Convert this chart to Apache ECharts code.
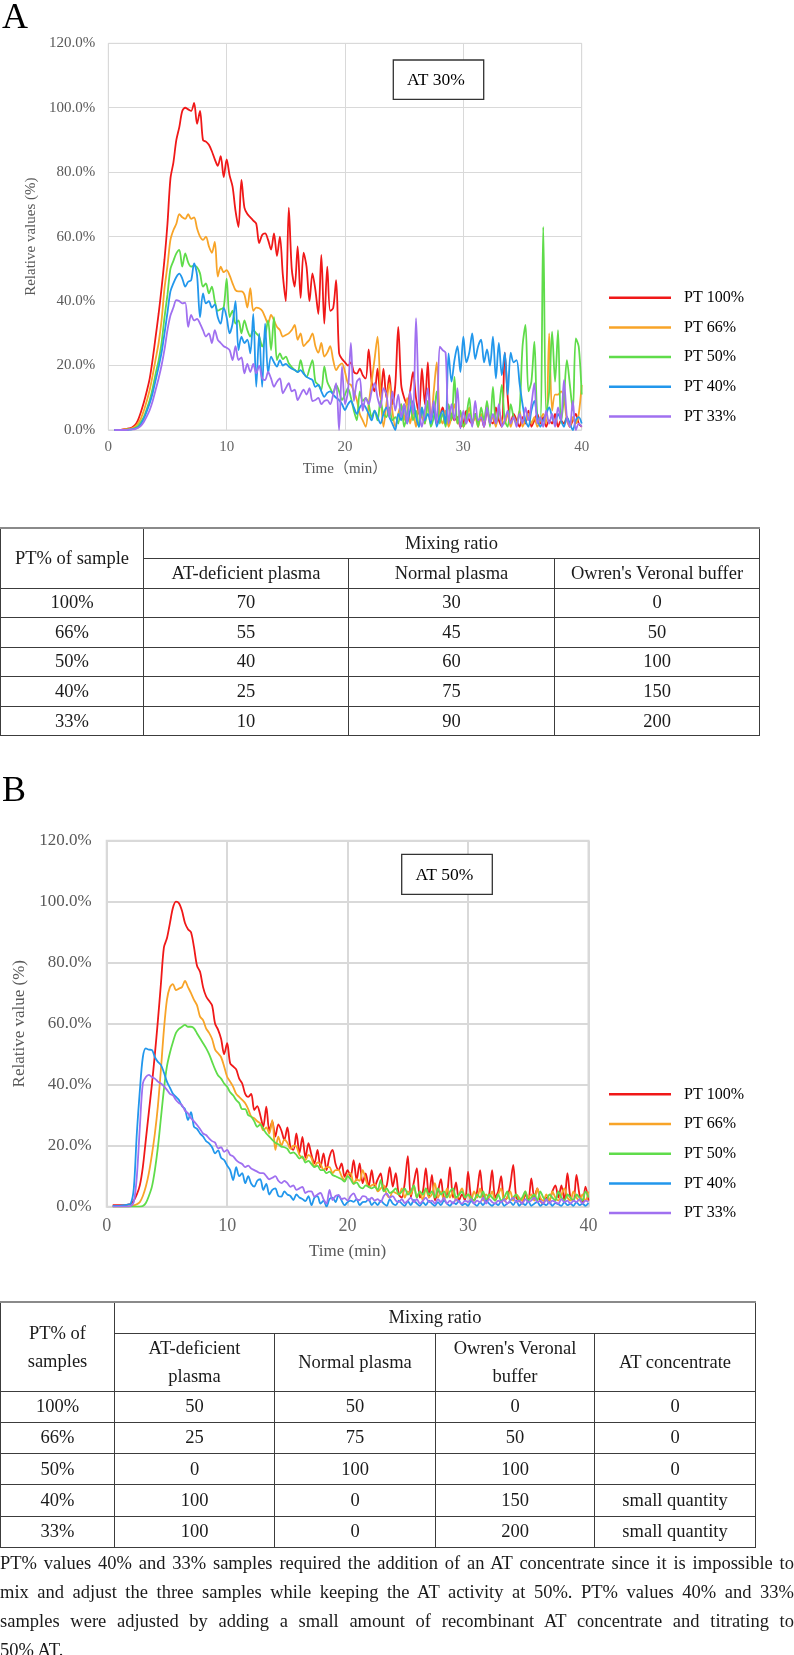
<!DOCTYPE html>
<html>
<head>
<meta charset="utf-8">
<script src="https://cdn.jsdelivr.net/npm/echarts@6/dist/echarts.min.js"></script>
<style>
  html, body { margin: 0; padding: 0; background: #fff; }
  #page { position: relative; width: 794px; height: 1655px; overflow: hidden; }
  #chart { position: absolute; left: 0; top: 0; width: 794px; height: 1655px; }
  table.mix { position: absolute; left: 0; border-collapse: collapse; table-layout: fixed;
    font-family: 'Liberation Serif', 'Times New Roman', serif; font-size: 18.5px; color: #1a1a1a; }
  table.mix td { border: 1px solid #3c3c3c; text-align: center; vertical-align: middle; padding: 0; }
  table.mix tr:first-child td { border-top: 2px solid #8a8a8a; }
  #tA { top: 527px; width: 759px; }
  #tB { top: 1301px; width: 755px; }
  #tB .two { line-height: 28px; }
  #note { position: absolute; left: 0; top: 1549px; width: 794px;
    font-family: 'Liberation Serif', 'Times New Roman', serif; font-size: 18.5px; color: #1a1a1a; line-height: 29px; }
  #note div { white-space: nowrap; text-align: justify; text-align-last: justify; }
  #note div.last { text-align-last: left; }
</style>
</head>
<body>
<div id="page">
  <div id="chart"></div>
  <table class="mix" id="tA"></table>
  <table class="mix" id="tB"></table>
  <div id="note"></div>
</div>
<script>
// ---------- sampling grid (minutes) ----------
const TIME = Array.from({length: 159}, (_, i) => 0.5 + 0.25 * i);
const SERIES_NAMES = ['PT 100%', 'PT 66%', 'PT 50%', 'PT 40%', 'PT 33%'];
const COLORS = ['#f01818', '#f8a428', '#5fdc4a', '#2297ec', '#a070f0'];
const X_TICKS = [0, 10, 20, 30, 40];
const Y_TICKS = [0, 20, 40, 60, 80, 100, 120];

// ---------- Panel A : AT 30% ----------
const RED_A = [0,0,0,0.2,0.3,0.5,0.8,1.5,
3,5.5,8.5,12,16,22,29,36,
44,53,64,78,83,90,94,99,
100,99.5,99,101.5,95,99,90,89.5,
88.5,86.5,84,82,85,78.5,84,79,
75.5,68,63,77.6,69,67,66,65,
64,58,60.5,61,59,56,61,54,
60,48,40,69,50,44.5,57,41,
55,50.7,40,48.6,43.4,36,54.3,33,
50.7,37,37.8,46.5,23.8,22,21,20,
21,18,17.5,19,17,16,25,15,
12,19,10,19,10,17,8,14,
32,14,10,8,12,18,10,5,
19,8,21,4,6,2,4,7,
3,2,5,3,4,1,2,6,
3,2,5,2,4,1,6,3,
2,7,3,1,24,10,2,5,
3,1,4,2,6,1,3,5,
2,4,1,3,2,5,1,3,
2,4,1,3,5,2,1];
const ORANGE_A = [0,0,0,0.1,0.2,0.3,0.5,1,
2,3.5,6,9,12.5,17,22,27,
34,44,51,59,62,64,67,66,
65.5,67,65.5,66,62.5,60,59,60,
57,55,58.4,47.6,50.7,49,49.6,48,
45.5,43.4,43,43,42,38,44,37,
38,37.8,37,35,33,35.7,34,32,
31,29,29.5,30,31,32.6,28,30,
26,27,28,30,26,24,27,22.8,
24,26,21.7,18.6,20,20.7,18,14.5,
14,12,9.3,5,3,1,8,15,
22,29,12,1,8,14.5,6,1,
5,8,3,10,2,6,1,7,
4,2,9,3,12,21,5,2,
6,1,4,8,2,5,1,3,
7,2,4,1,5,3,8,2,
4,1,6,3,2,5,1,4,
2,6,1,3,5,2,4,1,
3,5,2,30,6,11,11,12,
10,3,1,4,2,5,14];
const GREEN_A = [0,0,0,0,0.1,0.2,0.3,0.6,
1.2,2.5,4,6.5,9.3,13,17.5,21.5,
27,35,42,50,52.5,54.8,55.9,50.7,
54.8,52,50.7,51,50.5,48.6,44.5,45.5,
42.4,44.5,40,37,37.5,38,47,35,
37,33,34,30,34,31,29,31,
30,29,25.9,29,34,24.8,35,21.7,
23.8,22,22.8,20.7,19.5,18.6,18,21.7,
18,16.5,19,21.7,15,14,12.4,19.7,
15,13,11.4,14,12,9.3,11,13,
10,6,3,12,9,10,8,4,
6,3,9,5,4,7,3,4,
2,8,1,5,10,3,6,1,
7,2,9,1,4,12,2,5,
1,8,3,16.5,2,6,1,4,
10,2,5,1,7,3,9,1,
13.4,2,6,14,3,1,8,4,
2,6,25.9,32.6,12,15,27.4,4,
3,63,5,12,30.5,15,31,2,
10,21.7,14,6,28.4,25.9,11];
const BLUE_A = [0,0,0,0,0,0.1,0.2,0.4,
0.8,1.8,3.5,5.8,8.3,11.5,15.5,19.5,
24,30,36.5,43,45.5,47.5,48.5,47,
44.5,46,46.5,51.7,48,35,42.4,39.3,
40,38,39,35,33,38,35,30,
33,40,24.8,29,27,28,23.8,36,
13.4,30,13.4,33,17.6,22.8,21,19.7,
21.7,20,20.5,19.7,19,18.6,18,18.6,
17.5,16.5,16,15.5,13.4,14,12,10.3,
11.5,12,11,10,9.3,8,6.2,8,
9,7,5,7,8,7,5,3,
6,4,2,5,7,4,2,0,
5,3,8,2,6,9,4,1,
7,3,5,2,8,1,4,6,
2,23.8,15,21.7,26,18,29,21,
24,30,22,26,28,21,25,20,
29,16,27,17,24,11,24,21,
21.7,14.5,8,3,1,6,9,4,
1,3,5,7,4,2,5,3,
1,4,2,0,3,4,2];
const PURPLE_A = [0,0,0,0,0,0.1,0.2,0.3,
0.6,1.3,2.5,4.2,6.2,9,12.5,16,
20,25,31,35.5,38,40.3,40,39.3,
39.5,32,35.7,34,34.5,33,31,29,
30,27,31,28,27,26,25.5,24.8,
21.7,26,21.7,22.5,17.6,20.5,18,20.5,
17.6,20,16,15.5,18,16,13.4,15,
16,11.4,13,14.5,12,12.5,9.3,11,
12.5,11,13,9,9.3,10,8,9,
9.3,8,11,14.5,0,19.7,8,12,
27,9,15,16,6,10,8,12,
14.5,10,7,13,11,4,12,6,
11,4,8,2,12,5,34.7,8,
1,6,13,3,9,2,25.9,24.8,
24,2,8,3,13,0.5,6,2,
5,1,9,3,4,1,7,2,
5,2,8,1,3,6,2,4,
1,5,2,7,3,8,14.5,2,
4,1,6,2,5,1,7,3,
15.5,4,1,9,0,2,1];

// ---------- Panel B : AT 50% ----------
const RED_B = [0.5,0.5,0.5,0.5,0.5,0.7,0.9,2,
4,7,13,22,31,40,50,61,
73,85,88,93,98,100,99.5,97,
93,91,90,85,79,77,72,69,
67.5,66,60,58,55,50,53.6,47,
46,45,42,40.4,37,36,37,31.7,
33,30,26.2,32.8,25,28,23,27,
25,21.9,26,19.7,18.6,24,17.5,22.9,
16,20.8,17,14.2,18.6,13,17.5,12,
16.4,18.6,14,12,14.2,9.8,12,9.8,
15.3,8.7,14.2,7.7,10.9,6.6,12,6.6,
9,10.9,5.5,7,13,6.6,11,4,
3,8,16.6,3,8,12.6,3,5,
12.6,3,10.4,2,5,9,3,4,
13,3,8,2,4,2,11.5,3,
2,5,12,3,2,4,12,3,
5,10,2,3,7,13.7,3,2,
1,4,2,9.3,3,6,2,1,
3,2,5,7,3,7,2,11,
3,2,10.4,4,1,6.6,2];
const ORANGE_B = [0,0,0,0,0,0,0.2,0.4,
0.8,1.5,3.5,6.6,11,17,24,33,
45,58,67.8,72,73,71,71.5,72,
74,72,70,67.8,66,62.3,61.2,58.5,
57,55,51.5,50.3,49,46,42.6,41,
39.3,37,36,35,33.9,32,29.5,29,
28,27.3,25,26,24,28.4,18.6,23,
20,22,21,19,20,19.7,17,16,
15.3,17,16,13,14.5,14,12,13,
13,11,12,12,10,8.7,10.5,11,
7.5,9,8.5,12,9,6.5,7,7.5,
5,6,7,4,3,5,4.5,4,
6,3,5,4,7,3,5,2,
6,3,4,7.7,3,5,2,6,
3,5,2,4,6,3,4,2,
5,3,6,2,4,3,5,2,
4,6,2,3,5,2,4,3,
2,5,3,4,2,6,3,2,
4,2,5,3,2,4,6,3,
2,5,3,2,4,2,5];
const GREEN_B = [0,0,0,0,0,0,0,0,
0,0,0.2,1.2,3.5,6.5,12,19.5,
29,38.5,46,50.5,54,57,58.3,59,
59.6,59,59,58.5,56.8,55.2,53.6,52,
50,47.5,45,43,42,40.4,39.3,37.5,
36.5,35,34,32,32,30,29.5,28,
26.2,27,25.5,24,23,21.9,21,20.5,
19.7,19.5,19,17.5,17.8,17,15.8,16.5,
14.5,15,14,13,13.5,12,12,11,
11.5,10.4,10,9.5,9,8.2,10,9,
7.5,8,6.5,6,7,6.5,6,6.5,
5.5,8.7,5,6,4.5,5,6,4,
5,6,4,5,7,3,5,4,
6,4,5,3,6,4,5,3,
5,6,3,4,5,3,4,3,
2,4,3,5,2,4,3,2,
4,2,3,5,2,3,4,2,
3,5,2,3,4,2,5,3,
2,4,3,2,5,3,2,4,
3,2,4,3,2,5,3];
const BLUE_B = [0.3,0.3,0.3,0.4,0.5,0.7,1,6,
24,38,49,51.9,51.5,51.4,49,47.5,
46.5,44,41,39,37,36,35,33,
32,28.4,31,26.2,25.5,24,23,21.5,
20.8,19.5,17.5,18.5,16,15.3,13.5,12,
8.7,13,10,11,7.7,10,7.5,6.6,
8.5,9,5.5,7.5,4,5.5,6,3.5,
3.3,5,4,3.5,2.2,4,3,2.5,
1.8,3.5,0.5,3,3.5,1,2,0,
2.5,3,1.5,3.8,2,0.5,1.5,2,
1.6,2.5,0.5,1.5,1.6,2.5,0.5,1.5,
0.5,2,1,0.3,2.5,1,0.5,2,
1,0.3,1.8,0.5,2.2,1,0.3,1.5,
0.5,2,1,0.3,1.5,0.5,2,1,
0.3,1.5,0.8,2,0.5,1,0.3,1.8,
1,0.3,1.5,0.5,2,1,0.3,1.2,
0.5,1.8,0.3,1,1.5,0.5,2,0.3,
1.2,0.5,1.8,0.3,1,1.5,0.3,1,
0.5,1.5,0.3,1.2,0.8,0.3,1.5,0.5,
1,0.3,1.5,0.5,1,0.3,1.2];
const PURPLE_B = [0,0,0,0,0,0,0.2,1.5,
9.8,26,40.4,42.5,43.2,42.5,42,41,
40.4,39.5,38.3,37,36.5,35,34,33.3,
31.5,30.6,29,28,26.8,25.5,24,23.5,
22.4,21.5,21,19.1,19.5,18,18.6,17,
16.5,15.3,14.5,14,13,13.5,12.5,12,
11.5,11,11,10,9,9.5,10,8.5,
7.7,8.5,7.7,6.5,7,5.5,6,6.5,
4.5,5,5,3.3,4,4.5,2.5,1,
5.5,2.2,3.5,3.8,2.5,2.8,2,3.5,
4.4,2.5,2.2,3.5,3.3,2,3,2,
2.5,1.5,3.5,4.4,3,3.5,2,1.5,
2.5,1.2,2,3,1.5,2.5,1,2,
3,1.5,2,1,2.5,1.5,3,1,
2,1,2.5,1.5,1,2,1.5,2.5,
1,2,1.5,3,1,2.5,1.5,1,
2,1.5,2.5,1,2,3,1.5,2,
1,2.5,1.5,2,3,1.5,2,1,
2.5,1,2,1.5,1,2.5,1.5,2,
1,2,1.5,2.5,1,2,1.5];

// ---------- Tables ----------
const PT_ROWS = ['100%', '66%', '50%', '40%', '33%'];
const A_DEFICIENT_A = [70, 55, 40, 25, 10];
const NORMAL_A = [30, 45, 60, 75, 90];
const BUFFER_A = [0, 50, 100, 150, 200];
const A_DEFICIENT_B = [50, 25, 0, 100, 100];
const NORMAL_B = [50, 75, 100, 0, 0];
const BUFFER_B = [0, 50, 100, 150, 200];
const CONCENTRATE_B = ['0', '0', '0', 'small quantity', 'small quantity'];
const NOTE_LINES = [
  'PT% values 40% and 33% samples required the addition of an AT concentrate since it is impossible to',
  'mix and adjust the three samples while keeping the AT activity at 50%. PT% values 40% and 33%',
  'samples were adjusted by adding a small amount of recombinant AT concentrate and titrating to',
  '50% AT.'
];

// build tables
(function () {
  const tA = document.getElementById('tA');
  let h = '<colgroup><col style="width:143px"><col style="width:205px"><col style="width:206px"><col style="width:205px"></colgroup>';
  h += '<tr style="height:30px"><td rowspan="2">PT% of sample</td><td colspan="3">Mixing ratio</td></tr>';
  h += '<tr style="height:30px"><td>AT-deficient plasma</td><td>Normal plasma</td><td>Owren\'s Veronal buffer</td></tr>';
  PT_ROWS.forEach((p, i) => {
    h += `<tr style="height:29.6px"><td>${p}</td><td>${A_DEFICIENT_A[i]}</td><td>${NORMAL_A[i]}</td><td>${BUFFER_A[i]}</td></tr>`;
  });
  tA.innerHTML = h;

  const tB = document.getElementById('tB');
  let g = '<colgroup><col style="width:114px"><col style="width:160px"><col style="width:161px"><col style="width:159px"><col style="width:161px"></colgroup>';
  g += '<tr style="height:31px"><td rowspan="2" class="two">PT% of<br>samples</td><td colspan="4">Mixing ratio</td></tr>';
  g += '<tr style="height:58px"><td class="two">AT-deficient<br>plasma</td><td>Normal plasma</td><td class="two">Owren\'s Veronal<br>buffer</td><td>AT concentrate</td></tr>';
  PT_ROWS.forEach((p, i) => {
    g += `<tr style="height:31.3px"><td>${p}</td><td>${A_DEFICIENT_B[i]}</td><td>${NORMAL_B[i]}</td><td>${BUFFER_B[i]}</td><td>${CONCENTRATE_B[i]}</td></tr>`;
  });
  tB.innerHTML = g;

  const note = document.getElementById('note');
  note.innerHTML = NOTE_LINES.map((l, i) => `<div class="${i === NOTE_LINES.length - 1 ? 'last' : ''}">${l}</div>`).join('');
})();

// ---------- chart ----------
const SERIF = "'Liberation Serif','Times New Roman','Noto Sans CJK JP',serif";
const AXIS_GRAY = '#595959';
const DATA_A = [RED_A, ORANGE_A, GREEN_A, BLUE_A, PURPLE_A];
const DATA_B = [RED_B, ORANGE_B, GREEN_B, BLUE_B, PURPLE_B];

function pairs(vals) { return TIME.map((t, i) => [t, vals[i]]); }

function xAxisCfg(gridIndex, name, fs, nfs, gap, margin, lw) {
  return {
    type: 'value', gridIndex, min: X_TICKS[0], max: X_TICKS[X_TICKS.length - 1], interval: 10,
    name, nameLocation: 'middle', nameGap: gap,
    nameTextStyle: { fontFamily: SERIF, fontSize: nfs, color: AXIS_GRAY },
    axisLine: { show: false }, axisTick: { show: false },
    axisLabel: { fontFamily: SERIF, fontSize: fs, color: '#666', margin },
    splitLine: { show: true, lineStyle: { color: '#d9d9d9', width: lw } }
  };
}
function yAxisCfg(gridIndex, name, fs, nfs, gap, margin, lw) {
  return {
    type: 'value', gridIndex, min: Y_TICKS[0], max: Y_TICKS[Y_TICKS.length - 1], interval: 20,
    name, nameLocation: 'middle', nameGap: gap, nameRotate: 90,
    nameTextStyle: { fontFamily: SERIF, fontSize: nfs, color: AXIS_GRAY },
    axisLine: { show: false }, axisTick: { show: false },
    axisLabel: { fontFamily: SERIF, fontSize: fs, color: AXIS_GRAY, margin, formatter: v => v.toFixed(1) + '%' },
    splitLine: { show: true, lineStyle: { color: '#d9d9d9', width: lw } }
  };
}
function legendCfg(top) {
  return {
    data: SERIES_NAMES, orient: 'vertical', left: 604, top,
    icon: 'rect', itemWidth: 62, itemHeight: 2.5, itemGap: 9.7,
    textStyle: { fontFamily: SERIF, fontSize: 16, color: '#000', lineHeight: 20, padding: [0, 0, 0, 8] },
    selectedMode: false
  };
}

const series = [];
DATA_A.forEach((vals, k) => series.push({
  name: SERIES_NAMES[k], type: 'line', xAxisIndex: 0, yAxisIndex: 0,
  data: pairs(vals), showSymbol: false, smooth: 0.3, color: COLORS[k],
  lineStyle: { width: 1.8, color: COLORS[k] }
}));
DATA_B.forEach((vals, k) => series.push({
  name: SERIES_NAMES[k], type: 'line', xAxisIndex: 1, yAxisIndex: 1,
  data: pairs(vals), showSymbol: false, smooth: 0.3, color: COLORS[k],
  lineStyle: { width: 1.8, color: COLORS[k] }
}));

const chart = echarts.init(document.getElementById('chart'), null, { renderer: 'canvas' });
chart.setOption({
  animation: false,
  backgroundColor: '#fff',
  grid: [
    { left: 108.3, top: 43.3, width: 473.4, height: 386.7, show: true, borderColor: '#d9d9d9', borderWidth: 1 },
    { left: 106.7, top: 840.7, width: 481.8, height: 366, show: true, borderColor: '#d9d9d9', borderWidth: 2 }
  ],
  xAxis: [
    xAxisCfg(0, 'Time（min）', 15, 15, 32, 10, 1),
    xAxisCfg(1, 'Time (min)', 18, 17, 36, 11, 2)
  ],
  yAxis: [
    yAxisCfg(0, 'Relative values (%)', 15, 15, 67, 13, 1),
    yAxisCfg(1, 'Relative value (%)', 17, 17, 72, 15, 2)
  ],
  legend: [legendCfg(282.7), legendCfg(1079.3)],
  series,
  graphic: [
    { type: 'text', left: 2, top: 1, style: { text: 'A', font: '36px ' + SERIF, fill: '#000' } },
    { type: 'text', left: 2, top: 774, style: { text: 'B', font: '36px ' + SERIF, fill: '#000' } },
    { type: 'rect', shape: { x: 393.3, y: 60, width: 90.4, height: 39.3 }, style: { fill: '#fff', stroke: '#333', lineWidth: 1.3 }, z: 10 },
    { type: 'text', x: 436, y: 80.5, style: { text: 'AT 30%', font: '17.5px ' + SERIF, fill: '#000', align: 'center', verticalAlign: 'middle' }, z: 11 },
    { type: 'rect', shape: { x: 401.7, y: 854.3, width: 90.6, height: 40 }, style: { fill: '#fff', stroke: '#333', lineWidth: 1.3 }, z: 10 },
    { type: 'text', x: 444.5, y: 875.5, style: { text: 'AT 50%', font: '17.5px ' + SERIF, fill: '#000', align: 'center', verticalAlign: 'middle' }, z: 11 }
  ]
});
</script>
</body>
</html>
